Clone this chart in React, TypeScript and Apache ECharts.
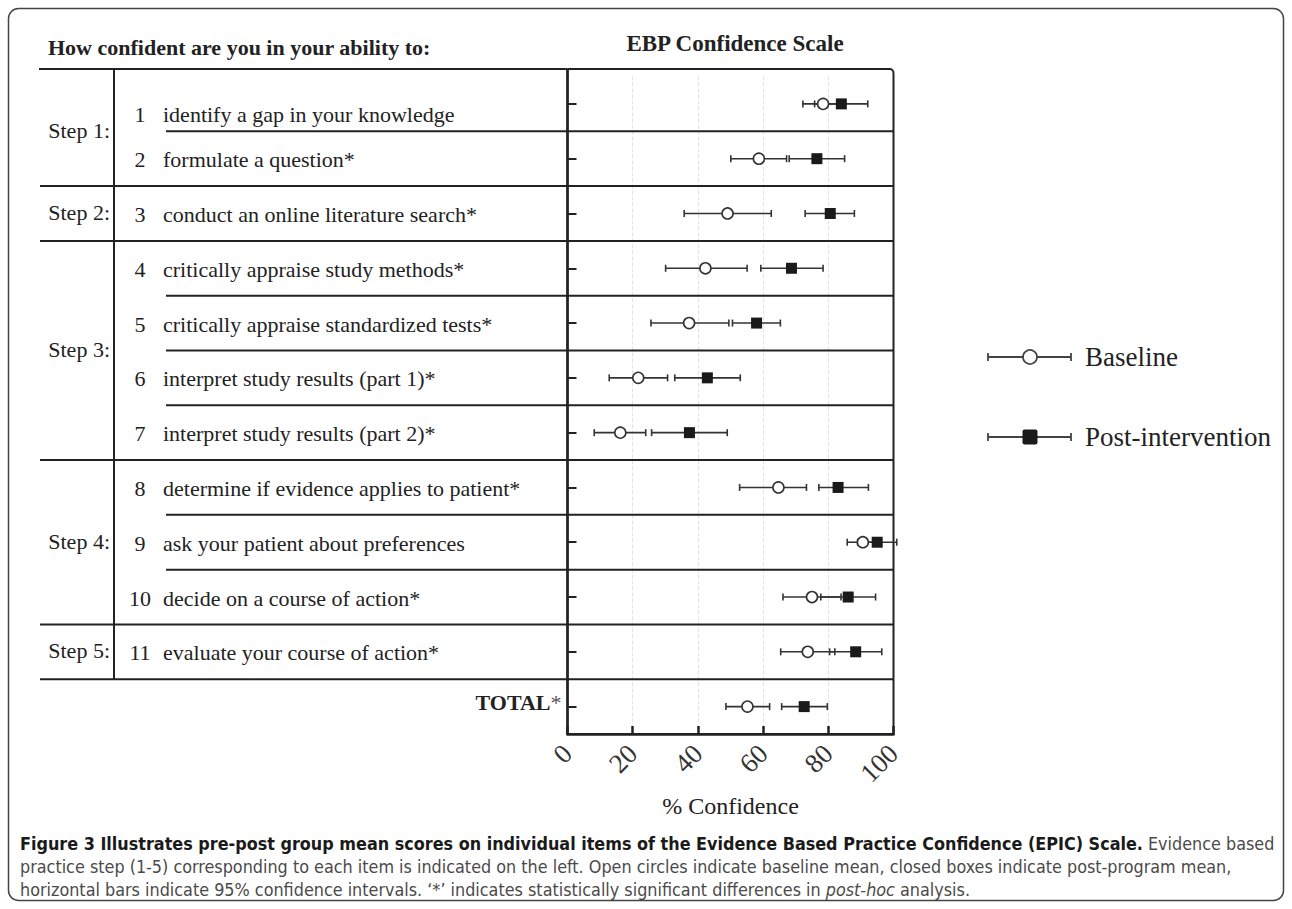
import React, { useEffect, useRef } from "react";
import * as echarts from "echarts";

// ---------- data ----------
const rowLabels = [
  "identify a gap in your knowledge",
  "formulate a question*",
  "conduct an online literature search*",
  "critically appraise study methods*",
  "critically appraise standardized tests*",
  "interpret study results (part 1)*",
  "interpret study results (part 2)*",
  "determine if evidence applies to patient*",
  "ask your patient about preferences",
  "decide on a course of action*",
  "evaluate your course of action*",
  "TOTAL*",
];
const itemNumbers = ["1", "2", "3", "4", "5", "6", "7", "8", "9", "10", "11", ""];
const stepNames = ["Step 1:", "Step 2:", "Step 3:", "Step 4:", "Step 5:"];
const stepFirstRow = [0, 2, 3, 7, 10];
const stepLastRow = [1, 2, 6, 9, 10];

const baselineMean = [78.4, 58.7, 49.1, 42.3, 37.3, 21.7, 16.2, 64.7, 90.6, 75.0, 73.7, 55.2];
const baselineLow = [72.2, 50.1, 35.8, 30.1, 25.6, 12.8, 8.2, 52.8, 85.8, 66.1, 65.4, 48.6];
const baselineHigh = [84.6, 67.2, 62.5, 55.1, 49.5, 30.7, 24.0, 73.3, 95.4, 83.9, 82.0, 62.0];
const postMean = [84.0, 76.5, 80.6, 68.7, 58.0, 42.9, 37.4, 83.0, 95.0, 86.1, 88.4, 72.6];
const postLow = [75.8, 68.0, 72.9, 59.3, 50.6, 32.9, 25.8, 77.1, 89.0, 77.7, 80.4, 65.7];
const postHigh = [92.1, 85.0, 88.0, 78.4, 65.3, 53.0, 49.0, 92.3, 101.0, 94.5, 96.4, 79.7];

const xMin = 0;
const xMax = 100;
const xStep = 20;

const captionBold =
  "Figure 3 Illustrates pre-post group mean scores on individual items of the Evidence Based Practice Confidence (EPIC) Scale.";
const captionLine1Rest = " Evidence based";
const captionLine2 =
  "practice step (1-5) corresponding to each item is indicated on the left. Open circles indicate baseline mean, closed boxes indicate post-program mean,";
const captionLine3a =
  "horizontal bars indicate 95% confidence intervals. \u2018*\u2019 indicates statistically significant differences in ";
const captionLine3b = "post-hoc";
const captionLine3c = " analysis.";

// ---------- style ----------
const SERIF = "Liberation Serif";
const INK = "#222";
const GRID = { left: 567.5, top: 76.5, width: 326, height: 657.5 };

function measure(font: string, text: string) {
  const c = document.createElement("canvas").getContext("2d");
  if (!c) return text.length * 8;
  c.font = font;
  return c.measureText(text).width;
}

function pickCaptionFont() {
  const candidates = ["Liberation Sans Narrow", "DejaVu Sans Condensed", "Open Sans"];
  const probe = "practice step corresponding to each item";
  for (const f of candidates) {
    const a = measure(`16px "${f}", monospace`, probe);
    const b = measure(`16px monospace`, probe);
    if (Math.abs(a - b) > 0.5) return f;
  }
  return "Liberation Sans";
}

function errorBarItem(params: any, api: any) {
  const row = api.value(0);
  const lo = api.coord([api.value(1), row]);
  const hi = api.coord([api.value(2), row]);
  const cap = 3.5;
  const style = { stroke: "#333", lineWidth: 1.6 };
  return {
    type: "group",
    children: [
      { type: "line", shape: { x1: lo[0], y1: lo[1], x2: hi[0], y2: hi[1] }, style },
      { type: "line", shape: { x1: lo[0], y1: lo[1] - cap, x2: lo[0], y2: lo[1] + cap }, style },
      { type: "line", shape: { x1: hi[0], y1: hi[1] - cap, x2: hi[0], y2: hi[1] + cap }, style },
    ],
  };
}

export default function App() {
  const ref = useRef<HTMLDivElement>(null);

  useEffect(() => {
    document.body.style.margin = "0";
    if (!ref.current) return;
    const chart = echarts.init(ref.current, undefined, { renderer: "svg" });

    chart.setOption({
      animation: false,
      backgroundColor: "#fff",
      textStyle: { fontFamily: SERIF },
      title: {
        text: "EBP Confidence Scale",
        left: 730,
        top: 27,
        textAlign: "center",
        textStyle: { fontFamily: SERIF, fontWeight: "bold", fontSize: 23, color: INK },
      },
      grid: { left: GRID.left, top: GRID.top, width: GRID.width, height: GRID.height, containLabel: false },
      xAxis: {
        type: "value",
        min: xMin,
        max: xMax,
        interval: xStep,
        name: "{n|% Confidence}",
        nameLocation: "middle",
        nameGap: 57,
        nameTextStyle: {
          fontFamily: SERIF,
          fontSize: 24,
          color: INK,
          rich: { n: { fontFamily: SERIF, fontSize: 24, color: INK } },
        },
        axisLine: { show: true, lineStyle: { color: INK, width: 2.5 } },
        axisTick: { show: true, inside: true, length: 8, lineStyle: { color: INK, width: 2.5 } },
        axisLabel: {
          rotate: 45,
          margin: 15,
          fontFamily: SERIF,
          fontSize: 27,
          color: "#333",
          formatter: (v: number) => `{t|${v}}`,
          rich: { t: { fontFamily: SERIF, fontSize: 27, color: "#333" } },
        },
        splitLine: { show: true, lineStyle: { color: "#e2e2e2", type: "dashed", width: 1 } },
      },
      yAxis: {
        type: "category",
        inverse: true,
        data: rowLabels,
        boundaryGap: true,
        axisLine: { show: true, lineStyle: { color: INK, width: 2.5 } },
        axisTick: { show: true, inside: true, alignWithLabel: true, length: 9, lineStyle: { color: INK, width: 2 } },
        axisLabel: { show: false },
        splitLine: { show: false },
      },
      series: [
        {
          type: "custom",
          name: "Baseline CI",
          renderItem: errorBarItem,
          encode: { x: [1, 2], y: 0 },
          data: rowLabels.map((_, i) => [i, baselineLow[i], baselineHigh[i]]),
          z: 2,
        },
        {
          type: "custom",
          name: "Post-intervention CI",
          renderItem: errorBarItem,
          encode: { x: [1, 2], y: 0 },
          data: rowLabels.map((_, i) => [i, postLow[i], postHigh[i]]),
          z: 2,
        },
        {
          type: "scatter",
          name: "Baseline",
          symbol: "circle",
          symbolSize: 11,
          itemStyle: { color: "#fff", borderColor: "#333", borderWidth: 1.6, opacity: 1 },
          data: baselineMean.map((v, i) => [v, i]),
          z: 3,
        },
        {
          type: "scatter",
          name: "Post-intervention",
          symbol: "rect",
          symbolSize: 11,
          itemStyle: { color: "#1a1a1a", opacity: 1 },
          data: postMean.map((v, i) => [v, i]),
          z: 4,
        },
      ],
    });

    // ---------- table / legend / caption graphics, positioned from the axes ----------
    const centers = rowLabels.map((_, i) => chart.convertToPixel({ yAxisIndex: 0 }, i) as number);
    const bounds = centers.slice(0, -1).map((c, i) => (c + centers[i + 1]) / 2);
    const xLeft = chart.convertToPixel({ xAxisIndex: 0 }, xMin) as number;
    const xRight = chart.convertToPixel({ xAxisIndex: 0 }, xMax) as number;
    const headerY = GRID.top - 7.5;
    const bottomY = GRID.top + GRID.height;

    const lineStyle = { stroke: INK, lineWidth: 2 };
    const g: any[] = [];
    const sf = (size: number, bold = false) => `${bold ? "bold " : ""}${size}px "${SERIF}", serif`;

    // figure frame
    g.push({
      type: "rect",
      shape: { x: 8.5, y: 8.5, width: 1275, height: 892, r: 10 },
      style: { fill: "none", stroke: "#444", lineWidth: 1.5 },
      z: 0,
    });

    // header line and plot frame
    g.push({ type: "line", shape: { x1: 39, y1: headerY, x2: xLeft, y2: headerY }, style: lineStyle });
    g.push({
      type: "rect",
      shape: { x: xLeft, y: headerY, width: xRight - xLeft, height: bottomY - headerY, r: [0, 4, 0, 0] },
      style: { fill: "none", stroke: INK, lineWidth: 2 },
    });

    // row separators
    bounds.forEach((y, i) => {
      const groupEnd = stepLastRow.indexOf(i) >= 0;
      g.push({
        type: "line",
        shape: { x1: groupEnd ? 40 : 166, y1: y, x2: xRight, y2: y },
        style: lineStyle,
      });
    });
    // step column divider
    g.push({ type: "line", shape: { x1: 114, y1: headerY, x2: 114, y2: bounds[bounds.length - 1] }, style: lineStyle });

    // header text
    g.push({
      type: "text",
      x: 48,
      y: 47,
      style: {
        text: "How confident are you in your ability to:",
        font: sf(22, true),
        fill: INK,
        textAlign: "left",
        textVerticalAlign: "middle",
      },
    });

    // step labels
    stepNames.forEach((s, k) => {
      g.push({
        type: "text",
        x: 110,
        y: (centers[stepFirstRow[k]] + centers[stepLastRow[k]]) / 2 - 1,
        style: { text: s, font: sf(22), fill: INK, textAlign: "right", textVerticalAlign: "middle" },
      });
    });

    // item labels
    rowLabels.forEach((label, i) => {
      if (i === rowLabels.length - 1) return;
      const y = centers[i] + (i === 0 ? 11 : 1);
      g.push({
        type: "text",
        x: 140,
        y,
        style: { text: itemNumbers[i], font: sf(22), fill: INK, textAlign: "center", textVerticalAlign: "middle" },
      });
      g.push({
        type: "text",
        x: 163,
        y,
        style: { text: label, font: sf(22), fill: INK, textAlign: "left", textVerticalAlign: "middle" },
      });
    });

    // TOTAL label
    const totalIdx = rowLabels.length - 1;
    g.push({
      type: "text",
      x: xLeft - 6,
      y: centers[totalIdx] - 4,
      style: {
        text: "{b|TOTAL}{s|*}",
        textAlign: "right",
        textVerticalAlign: "middle",
        rich: {
          b: { fontFamily: SERIF, fontWeight: "bold", fontSize: 22, fill: INK },
          s: { fontFamily: SERIF, fontSize: 22, fill: "#555" },
        },
      },
    });

    // legend
    const legendItems = [
      { name: "Baseline", y: 357, kind: "circle" },
      { name: "Post-intervention", y: 437, kind: "rect" },
    ];
    legendItems.forEach((it) => {
      const st = { stroke: "#444", lineWidth: 1.8 };
      g.push({ type: "line", shape: { x1: 988, y1: it.y, x2: 1071, y2: it.y }, style: st });
      g.push({ type: "line", shape: { x1: 988, y1: it.y - 4, x2: 988, y2: it.y + 4 }, style: st });
      g.push({ type: "line", shape: { x1: 1071, y1: it.y - 4, x2: 1071, y2: it.y + 4 }, style: st });
      if (it.kind === "circle") {
        g.push({
          type: "circle",
          shape: { cx: 1030, cy: it.y, r: 7 },
          style: { fill: "#fff", stroke: "#444", lineWidth: 1.8 },
        });
      } else {
        g.push({
          type: "rect",
          shape: { x: 1022.5, y: it.y - 7.5, width: 15, height: 15, r: 2 },
          style: { fill: "#1a1a1a" },
        });
      }
      g.push({
        type: "text",
        x: 1085,
        y: it.y,
        style: { text: it.name, font: sf(27), fill: INK, textAlign: "left", textVerticalAlign: "middle" },
      });
    });

    // caption
    const capFamily = pickCaptionFont();
    const targetWidth = 1255;
    const w16 =
      measure(`bold 16px "${capFamily}"`, captionBold) + measure(`16px "${capFamily}"`, captionLine1Rest);
    const capSize = Math.max(12, Math.min(20, (16 * targetWidth) / w16));
    const capX = 20;
    const capY = [843, 866, 889];
    g.push({
      type: "text",
      x: capX,
      y: capY[0],
      style: {
        text: `{b|${captionBold}}{r|${captionLine1Rest}}`,
        textAlign: "left",
        textVerticalAlign: "middle",
        rich: {
          b: { fontFamily: capFamily, fontWeight: "bold", fontSize: capSize, fill: "#1a1a1a" },
          r: { fontFamily: capFamily, fontSize: capSize, fill: "#4a4a4a" },
        },
      },
    });
    g.push({
      type: "text",
      x: capX,
      y: capY[1],
      style: {
        text: captionLine2,
        font: `${capSize}px "${capFamily}"`,
        fill: "#4a4a4a",
        textAlign: "left",
        textVerticalAlign: "middle",
      },
    });
    g.push({
      type: "text",
      x: capX,
      y: capY[2],
      style: {
        text: `{r|${captionLine3a}}{i|${captionLine3b}}{r|${captionLine3c}}`,
        textAlign: "left",
        textVerticalAlign: "middle",
        rich: {
          r: { fontFamily: capFamily, fontSize: capSize, fill: "#4a4a4a" },
          i: { fontFamily: capFamily, fontStyle: "italic", fontSize: capSize, fill: "#4a4a4a" },
        },
      },
    });

    // left axis extension up to the header line
    g.push({ type: "line", shape: { x1: xLeft, y1: headerY, x2: xLeft, y2: GRID.top }, style: { stroke: INK, lineWidth: 2.5 } });

    chart.setOption({ graphic: g });

    return () => chart.dispose();
  }, []);

  return <div ref={ref} style={{ width: 1292, height: 909 }} />;
}
